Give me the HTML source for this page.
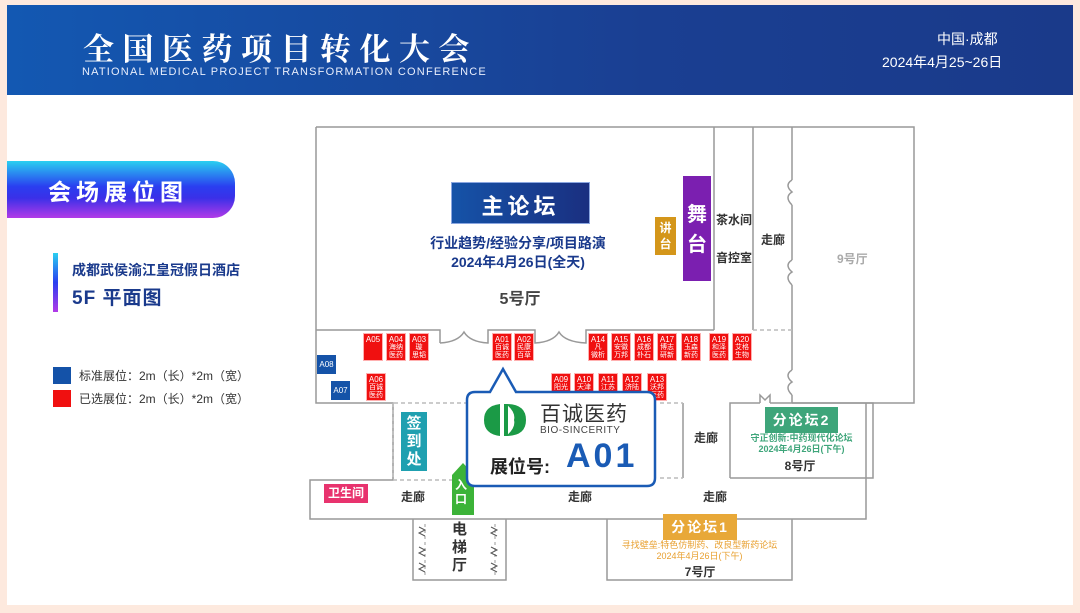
<!DOCTYPE html>
<html><head><meta charset="utf-8"><style>
*{margin:0;padding:0;box-sizing:border-box}
body{width:1080px;height:613px;background:#fde9de;position:relative;overflow:hidden;font-family:"Liberation Sans","Noto Sans CJK SC",sans-serif}
.a{position:absolute}
.hdr{left:7px;top:5px;width:1066px;height:90px;background:linear-gradient(90deg,#1358b2,#1a3f92 60%,#1a3a8a)}
.main{left:7px;top:95px;width:1066px;height:510px;background:#fff}
.bk{position:absolute;background:#f01010;color:#fff;font-size:7px;line-height:8px;text-align:center;width:20px;height:28px;padding-top:1px;border:1px solid #ffb0b0}
.bk b{font-size:8px;font-weight:normal;display:block;line-height:9px}
.bb{position:absolute;background:#1553a8;color:#fff;font-size:8px;width:19px;height:19px;line-height:19px;text-align:center}
.c{text-align:center;white-space:nowrap}
.lb{font-size:12px;color:#333;font-weight:bold}
</style></head><body>
<div class="a hdr"></div>
<div class="a" style="left:83px;top:24px;color:#fff;font-size:31px;font-family:'Noto Serif CJK SC',serif;letter-spacing:8.5px;font-weight:bold">全国医药项目转化大会</div>
<div class="a" style="left:82px;top:66px;color:#e8eefc;font-size:11px;letter-spacing:1.2px">NATIONAL MEDICAL PROJECT TRANSFORMATION CONFERENCE</div>
<div class="a" style="left:937px;top:29px;color:#fff;font-size:14px">中国·成都</div>
<div class="a" style="left:882px;top:52px;color:#fff;font-size:14px">2024年4月25~26日</div>
<div class="a main"></div>

<div class="a" style="left:7px;top:161px;width:228px;height:57px;border-radius:0 22px 22px 0;background:linear-gradient(180deg,#2ad0f0 0%,#2a3ef0 45%,#3a30e8 65%,#b23ae8 100%)"></div>
<div class="a" style="left:48px;top:173px;color:#fff;font-size:23px;font-weight:bold;letter-spacing:5px">会场展位图</div>
<div class="a" style="left:53px;top:253px;width:5px;height:59px;background:linear-gradient(180deg,#2ad0f0,#2a3ef0,#b23ae8)"></div>
<div class="a" style="left:72px;top:260px;color:#1a3a8c;font-size:14px;font-weight:bold">成都武侯渝江皇冠假日酒店</div>
<div class="a" style="left:72px;top:283px;color:#1a3a8c;font-size:19px;font-weight:bold;letter-spacing:1px">5F 平面图</div>
<div class="a" style="left:53px;top:367px;width:18px;height:17px;background:#1452a8"></div>
<div class="a" style="left:53px;top:390px;width:18px;height:17px;background:#f01010"></div>
<div class="a" style="left:79px;top:367px;font-size:12px;color:#333">标准展位：2m（长）*2m（宽）</div>
<div class="a" style="left:79px;top:390px;font-size:12px;color:#333">已选展位：2m（长）*2m（宽）</div>

<svg class="a" style="left:0;top:0" width="1080" height="613" fill="none" stroke="#999" stroke-width="1.5">
<path d="M316 127H914V403H792 M316 127V403H393V480H310V519H866V403H873 M714 127V330 M753 127V330 M792 127V180 M792 205V260 M792 285V370 M792 395V403"/>
<path d="M792 180q-8 5 0 12q-8 5 0 13 M792 260q-8 5 0 12q-8 5 0 13 M792 370q-8 5 0 12q-8 5 0 13"/>
<path d="M316 330H440V343 M440 343Q458 342 464 332Q470 342 488 343V330H535V343Q553 342 559 332Q565 342 586 343V330H714"/>
<path d="M730 478V403H760 M770 403H873V478H730" />
<path d="M760 403V395l5 5 5-5V403"/>
<path d="M413 519V580H506V519 M607 519V580H792V519"/>
<path d="M683 403V478"/>
<path d="M753 330H792 M393 403V480 M475 403H393 M393 480H466 M660 403H683 M660 478H683" stroke-dasharray="4 3" stroke="#bbb"/>
<path d="M425 524V576 M495 524V576" stroke-dasharray="3 3" stroke="#bbb"/>
<path d="M419 527l6 3-6 3 6 3M419 547l6 3-6 3 6 3M419 563l6 3-6 3 6 3M491 527l6 3-6 3 6 3M491 547l6 3-6 3 6 3M491 563l6 3-6 3 6 3" stroke="#555" stroke-width="1"/>
</svg>

<div class="a" style="left:451px;top:182px;width:139px;height:42px;background:linear-gradient(90deg,#1553a8,#1a2f80);border:1px solid #8aa6e0"></div>
<div class="a c" style="left:451px;top:189px;width:139px;color:#fff;font-size:22px;font-weight:bold;letter-spacing:4px">主论坛</div>
<div class="a c" style="left:400px;top:233px;width:236px;color:#1a3a8c;font-size:14px;font-weight:bold">行业趋势/经验分享/项目路演</div>
<div class="a c" style="left:400px;top:252px;width:236px;color:#1a3a8c;font-size:14px;font-weight:bold">2024年4月26日(全天)</div>
<div class="a c" style="left:480px;top:285px;width:80px;color:#444;font-size:16px;font-weight:bold">5号厅</div>
<div class="a" style="left:655px;top:217px;width:21px;height:38px;background:#d4961a;color:#fff;font-size:12px;line-height:16px;text-align:center;padding-top:3px;font-weight:bold">讲<br>台</div>
<div class="a" style="left:683px;top:176px;width:28px;height:105px;background:#7b1fb0;color:#fff;font-size:20px;line-height:30px;text-align:center;padding-top:24px;font-weight:bold">舞<br>台</div>
<div class="a lb" style="left:716px;top:211px">茶水间</div>
<div class="a lb" style="left:716px;top:249px">音控室</div>
<div class="a lb" style="left:761px;top:231px">走廊</div>
<div class="a" style="left:837px;top:250px;font-size:12px;color:#aaa;font-weight:bold">9号厅</div>

<div class="bk" style="left:363px;top:333px"><b>A05</b></div>
<div class="bk" style="left:386px;top:333px"><b>A04</b>海纳<br>医药</div>
<div class="bk" style="left:409px;top:333px"><b>A03</b>璇<br>思韬</div>
<div class="bk" style="left:492px;top:333px"><b>A01</b>百诚<br>医药</div>
<div class="bk" style="left:514px;top:333px"><b>A02</b>民康<br>百草</div>
<div class="bk" style="left:588px;top:333px"><b>A14</b>凡<br>微析</div>
<div class="bk" style="left:611px;top:333px"><b>A15</b>安徽<br>万邦</div>
<div class="bk" style="left:634px;top:333px"><b>A16</b>成都<br>朴石</div>
<div class="bk" style="left:657px;top:333px"><b>A17</b>博志<br>研新</div>
<div class="bk" style="left:681px;top:333px"><b>A18</b>玉森<br>新药</div>
<div class="bk" style="left:709px;top:333px"><b>A19</b>和泽<br>医药</div>
<div class="bk" style="left:732px;top:333px"><b>A20</b>艾格<br>生物</div>
<div class="bk" style="left:366px;top:373px"><b>A06</b>百诚<br>医药</div>
<div class="bk" style="left:551px;top:373px"><b>A09</b>阳光</div>
<div class="bk" style="left:574px;top:373px"><b>A10</b>天津</div>
<div class="bk" style="left:598px;top:373px"><b>A11</b>江苏</div>
<div class="bk" style="left:622px;top:373px"><b>A12</b>济陆</div>
<div class="bk" style="left:647px;top:373px"><b>A13</b>沃邦<br>医药</div>
<div class="bb" style="left:317px;top:355px">A08</div>
<div class="bb" style="left:331px;top:381px">A07</div>

<div class="a" style="left:401px;top:412px;width:26px;height:59px;background:#1fa0b0;color:#fff;font-size:15px;line-height:18px;text-align:center;padding-top:3px;font-weight:bold">签<br>到<br>处</div>
<svg class="a" style="left:449px;top:463px" width="28" height="52"><path d="M3 12L14 0 25 12V52H3Z" fill="#3cb338"/></svg>
<div class="a" style="left:455px;top:478px;color:#fff;font-size:12px;line-height:14px;font-weight:bold">入<br>口</div>
<div class="a" style="left:324px;top:484px;width:44px;height:19px;background:#e8336e;color:#fff;font-size:12px;line-height:19px;text-align:center;font-weight:bold">卫生间</div>
<div class="a lb" style="left:401px;top:488px">走廊</div>
<div class="a lb" style="left:568px;top:488px">走廊</div>
<div class="a lb" style="left:703px;top:488px">走廊</div>
<div class="a lb" style="left:694px;top:429px">走廊</div>
<div class="a" style="left:452px;top:521px;color:#333;font-size:15px;line-height:18px;font-weight:bold">电<br>梯<br>厅</div>

<div class="a c" style="left:663px;top:514px;width:74px;height:26px;background:#e8a838;color:#fff;font-size:14px;line-height:26px;font-weight:bold;letter-spacing:2px">分论坛1</div>
<div class="a c" style="left:607px;top:540px;width:185px;color:#e8a030;font-size:9px;line-height:11px">寻找壁垒:特色仿制药、改良型新药论坛<br>2024年4月26日(下午)</div>
<div class="a c" style="left:660px;top:563px;width:80px;color:#333;font-size:12px;font-weight:bold">7号厅</div>
<div class="a c" style="left:765px;top:407px;width:73px;height:26px;background:#3ea57a;color:#fff;font-size:14px;line-height:26px;font-weight:bold;letter-spacing:2px">分论坛2</div>
<div class="a c" style="left:730px;top:433px;width:143px;color:#3ea57a;font-size:9px;line-height:11px;font-weight:bold">守正创新:中药现代化论坛<br>2024年4月26日(下午)</div>
<div class="a c" style="left:760px;top:457px;width:80px;color:#333;font-size:12px;font-weight:bold">8号厅</div>

<svg class="a" style="left:460px;top:362px" width="204" height="130">
<path d="M15 30H30L43 7 56 30H187Q195 30 195 38V116Q195 124 187 124H15Q7 124 7 116V38Q7 30 15 30Z" fill="#fff" stroke="#1a5bb5" stroke-width="2.5"/>
<path d="M40 42Q24 44 24 58Q24 72 40 74Z" fill="#1b9a46"/>
<path d="M46 42Q66 42 66 58Q66 74 46 74Q56 66 54 58Q56 50 46 42Z" fill="#1b9a46"/>
<path d="M44 42h4v32h-4z" fill="#1b9a46"/>
</svg>
<div class="a" style="left:540px;top:398px;color:#333;font-size:21px;letter-spacing:1px">百诚医药</div>
<div class="a" style="left:540px;top:425px;color:#444;font-size:10px;letter-spacing:0.5px">BIO-SINCERITY</div>
<div class="a" style="left:490px;top:453px;color:#222;font-size:18px;font-weight:bold">展位号:</div>
<div class="a" style="left:566px;top:437px;color:#1a5bb5;font-size:34px;font-weight:bold;letter-spacing:3px">A01</div>
</body></html>
